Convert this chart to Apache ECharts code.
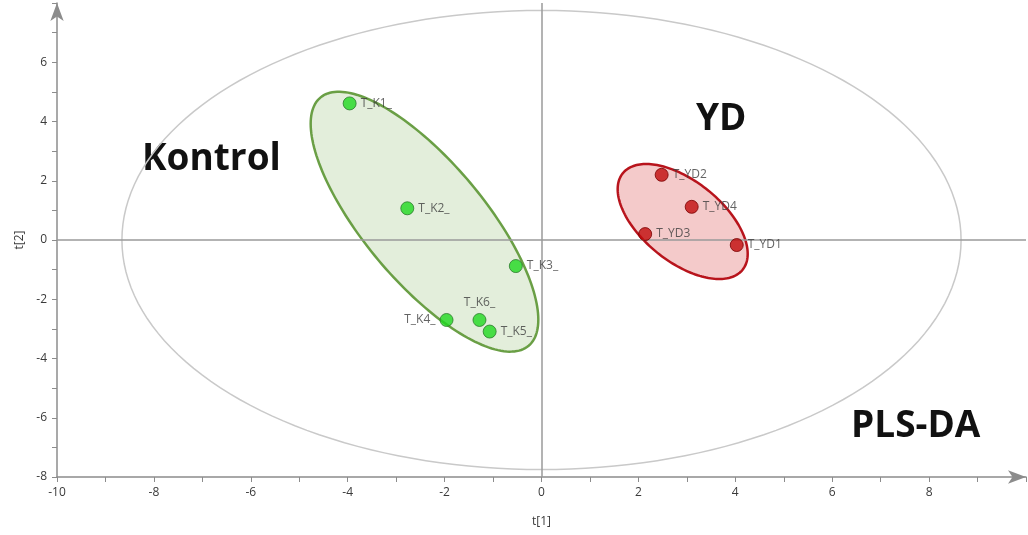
<!DOCTYPE html>
<html>
<head>
<meta charset="utf-8">
<title>PLS-DA score plot</title>
<script src="https://cdn.jsdelivr.net/npm/echarts@6/dist/echarts.min.js"></script>
<style>
  html, body { margin: 0; padding: 0; background: #fff; }
  #chart { width: 1028px; height: 535px; }
</style>
</head>
<body>
<div id="chart"></div>
<script>
// Score values t[1], t[2] for each sample
const kontrolNames = ['T_K1_', 'T_K2_', 'T_K3_', 'T_K4_', 'T_K6_', 'T_K5_'];
const kontrolT1 = [-3.96, -2.77, -0.53, -1.96, -1.28, -1.07];
const kontrolT2 = [4.61, 1.07, -0.88, -2.70, -2.70, -3.09];

const ydNames = ['T_YD2', 'T_YD4', 'T_YD3', 'T_YD1'];
const ydT1 = [2.48, 3.10, 2.14, 4.03];
const ydT2 = [2.20, 1.12, 0.20, -0.17];

// Label placement per sample
const kontrolLabelPos = ['right', 'right', 'right', 'left', 'top', 'right'];
const ydLabelPos = ['right', 'right', 'right', 'right'];

// Ellipses: centre plus two conjugate half-axis vectors, in score units
const ellipseNames = ['Hotelling T2 (95%)', 'Kontrol', 'YD'];
const ellipseCenter = [[0, 0], [-2.415, 0.618], [2.914, 0.624]];
const ellipseAxisA = [[8.66, 0], [2.149, -4.189], [1.237, -1.627]];
const ellipseAxisB = [[0, 7.75], [0.949, 1.302], [0.520, 1.058]];

// Axis ticks
const xTicks = { min: -10, max: 10, step: 2 };
const yTicks = { min: -8, max: 8, step: 2 };

const ellipseStyles = [
  { fill: 'none', stroke: '#c9c9c9', lineWidth: 1.5 },
  { fill: 'rgba(115,170,75,0.2)', stroke: '#6a9f45', lineWidth: 2.5 },
  { fill: 'rgba(215,60,60,0.27)', stroke: '#b8141c', lineWidth: 2.5 }
];

function pairs(xs, ys, names, pos) {
  return xs.map((x, i) => ({
    value: [x, ys[i]],
    name: names[i],
    label: { position: pos[i] }
  }));
}

const chart = echarts.init(document.getElementById('chart'), null, { renderer: 'canvas' });

const axisCommon = {
  axisLine: {
    show: true,
    onZero: false,
    symbol: ['none', 'arrow'],
    symbolSize: [10, 18],
    lineStyle: { color: '#8c8c8c', width: 1.5 }
  },
  axisTick: { show: true, length: 5, lineStyle: { color: '#8c8c8c' } },
  minorTick: { show: true, splitNumber: 2, length: 5, lineStyle: { color: '#8c8c8c' } },
  splitLine: { show: false },
  axisLabel: {
    color: '#3a3a3a',
    fontFamily: 'Open Sans',
    fontSize: 12,
    showMaxLabel: false
  },
  nameLocation: 'middle',
  nameTextStyle: { color: '#3a3a3a', fontFamily: 'Open Sans', fontSize: 12 }
};

const labelStyle = {
  show: true,
  formatter: '{b}',
  color: '#3c3c3c',
  fontFamily: 'Open Sans',
  fontSize: 12,
  distance: 4
};

const option = {
  backgroundColor: '#fff',
  animation: false,
  grid: { left: 57, right: 2, top: 3, bottom: 58, containLabel: false },
  xAxis: Object.assign({}, axisCommon, {
    type: 'value',
    min: xTicks.min, max: xTicks.max, interval: xTicks.step,
    name: 't[1]', nameGap: 39,
    axisLabel: Object.assign({}, axisCommon.axisLabel, { margin: 10 })
  }),
  yAxis: Object.assign({}, axisCommon, {
    type: 'value',
    min: yTicks.min, max: yTicks.max, interval: yTicks.step,
    name: 't[2]', nameGap: 31, nameRotate: 90,
    axisLabel: Object.assign({}, axisCommon.axisLabel, { margin: 10 })
  }),
  graphic: [
    { type: 'text', left: 142, top: 141, style: { text: 'Kontrol', font: 'bold 37px "Open Sans"', fill: '#111' } },
    { type: 'text', left: 696, top: 101, style: { text: 'YD', font: 'bold 37px "Open Sans"', fill: '#111' } },
    { type: 'text', left: 851, top: 408, style: { text: 'PLS-DA', font: 'bold 37px "Open Sans"', fill: '#111' } }
  ],
  series: [
    {
      type: 'custom',
      name: 'ellipses',
      silent: true,
      clip: false,
      z: 1,
      data: ellipseNames.map((n, i) => [i]),
      renderItem: function (params, api) {
        const i = api.value(0);
        const c = ellipseCenter[i], a = ellipseAxisA[i], b = ellipseAxisB[i];
        const pts = [];
        const n = 180;
        for (let k = 0; k <= n; k++) {
          const t = 2 * Math.PI * k / n;
          const ct = Math.cos(t), st = Math.sin(t);
          pts.push(api.coord([c[0] + a[0] * ct + b[0] * st, c[1] + a[1] * ct + b[1] * st]));
        }
        const s = ellipseStyles[i];
        return {
          type: 'polygon',
          shape: { points: pts },
          style: { fill: s.fill, stroke: s.stroke, lineWidth: s.lineWidth }
        };
      },
      markLine: {
        silent: true,
        symbol: ['none', 'none'],
        label: { show: false },
        lineStyle: { color: '#9a9a9a', width: 1.5, type: 'solid' },
        data: [{ xAxis: 0 }, { yAxis: 0 }]
      }
    },
    {
      type: 'scatter',
      name: 'Kontrol',
      z: 5,
      symbolSize: 13,
      itemStyle: { color: '#1fd81f', borderColor: '#2c7a2c', borderWidth: 1 },
      label: labelStyle,
      data: pairs(kontrolT1, kontrolT2, kontrolNames, kontrolLabelPos)
    },
    {
      type: 'scatter',
      name: 'YD',
      z: 5,
      symbolSize: 13,
      itemStyle: { color: '#c00a0a', borderColor: '#780000', borderWidth: 1 },
      label: labelStyle,
      data: pairs(ydT1, ydT2, ydNames, ydLabelPos)
    }
  ]
};

chart.setOption(option);
</script>
</body>
</html>
